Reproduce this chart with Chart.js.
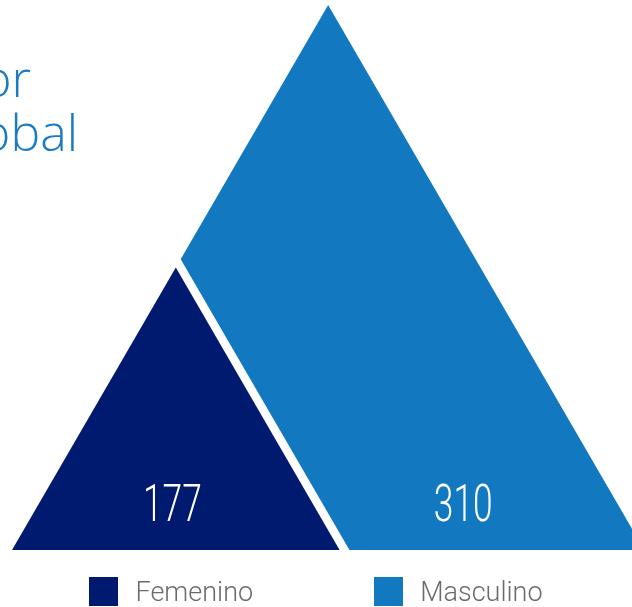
<!DOCTYPE html>
<html>
<head>
<meta charset="utf-8">
<script src="https://cdn.jsdelivr.net/npm/chart.js@4.4.1/dist/chart.umd.min.js"></script>
<style>
    html, body { margin: 0; padding: 0; background: #fff; }
    #wrap { position: relative; width: 632px; height: 607px; overflow: hidden; }
    #chart { position: absolute; left: 0; top: 0; }
    .title-line {
        position: absolute;
        white-space: nowrap;
        font-family: 'Open Sans', sans-serif;
        font-weight: 300;
        font-size: 50px;
        line-height: 54px;
        color: #1a7ac3;
    }
    #legend {
        position: absolute;
        left: 0; top: 577px; width: 632px; height: 29px;
        display: flex; justify-content: center; align-items: center; gap: 121px;
        font-family: Roboto, sans-serif; font-weight: 300; font-size: 27px; color: #6b6b6b;
    }
    .legend-item { display: flex; align-items: center; gap: 17px; }
    .legend-box { width: 29px; height: 29px; }
</style>
</head>
<body>
<div id="wrap">
    <canvas id="chart" width="632" height="607"></canvas>
    <div class="title-line" style="right:601px; top:51px;">por</div>
    <div class="title-line" style="right:554px; top:105px;">global</div>
    <div id="legend"></div>
</div>
<script>
// ── Data ──────────────────────────────────────────────────────────────
const categories = ['Femenino', 'Masculino'];
const values     = [177, 310];
const colors     = ['#001a6f', '#1279c1'];

// hidden axis floor: triangle height = value - Y_MIN
const Y_MIN = 34;

// triangle with shared left corner, half-width = height (in x units)
function triangle(v) {
    const half = v - Y_MIN;
    return [
        { x: 0,        y: Y_MIN },
        { x: half,     y: v },
        { x: half * 2, y: Y_MIN },
    ];
}

// ── Value labels ──────────────────────────────────────────────────────
const valueLabels = {
    id: 'valueLabels',
    afterDatasetsDraw(chart, args, opts) {
        const { ctx, chartArea, scales: { x } } = chart;
        values.forEach((v, i) => {
            const px = x.getPixelForValue((v - Y_MIN) + opts.shift[i]);
            ctx.save();
            ctx.translate(px, chartArea.bottom - 29);
            ctx.scale(0.68, 1);
            ctx.font = '300 52px Roboto, sans-serif';
            ctx.fillStyle = '#fff';
            ctx.textAlign = 'center';
            ctx.textBaseline = 'alphabetic';
            ctx.fillText(String(v), 0, 0);
            ctx.restore();
        });
    },
};

// ── Chart ─────────────────────────────────────────────────────────────
new Chart(document.getElementById('chart'), {
    type: 'line',
    data: {
        datasets: [
            {
                label:           categories[0],
                data:            triangle(values[0]),
                backgroundColor: colors[0],
                borderWidth:     0,
                fill:            'start',
            },
            {
                // white gap drawn between the two shapes
                label:            'gap',
                data:             triangle(values[0]),
                borderColor:      '#fff',
                borderWidth:      17,
                borderJoinStyle:  'miter',
                borderCapStyle:   'square',
                fill:             false,
            },
            {
                label:           categories[1],
                data:            triangle(values[1]),
                backgroundColor: colors[1],
                borderWidth:     0,
                fill:            'start',
            },
        ],
    },
    options: {
        responsive: false,
        animation:  false,
        events:     [],
        layout: { padding: { left: 0, right: 0, top: 0, bottom: 57 } },
        elements: {
            point: { radius: 0 },
            line:  { tension: 0 },
        },
        plugins: {
            legend:  { display: false },
            tooltip: { enabled: false },
            valueLabels: { shift: [-3, 118] },
        },
        scales: {
            x: { type: 'linear', display: false, min: -10.5, max: 541.3 },
            y: { type: 'linear', display: false, min: Y_MIN, max: 312.5 },
        },
    },
    plugins: [valueLabels],
});

// ── Legend ────────────────────────────────────────────────────────────
document.getElementById('legend').innerHTML = categories.map((c, i) => `
    <div class="legend-item">
        <div class="legend-box" style="background:${colors[i]}"></div>
        <span>${c}</span>
    </div>`).join('');
</script>
</body>
</html>
